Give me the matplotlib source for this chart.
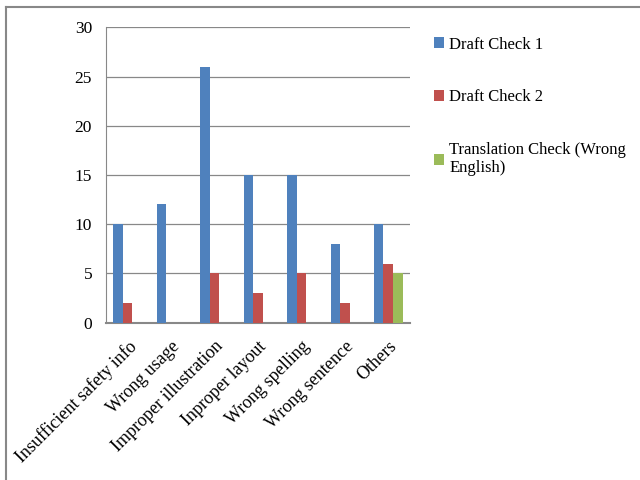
import matplotlib
matplotlib.use('Agg')
import matplotlib.pyplot as plt
import numpy as np
from matplotlib.lines import Line2D

plt.rcParams['font.family'] = ['Liberation Serif', 'DejaVu Serif']

categories = ['Insufficient safety info', 'Wrong usage', 'Improper illustration',
              'Inproper layout', 'Wrong spelling', 'Wrong sentence', 'Others']
draft1 = [10, 12, 26, 15, 15, 8, 10]
draft2 = [2, 0, 5, 3, 5, 2, 6]
translation = [0, 0, 0, 0, 0, 0, 5]
series_names = ['Draft Check 1', 'Draft Check 2', 'Translation Check (Wrong\nEnglish)']
colors = ['#4f81bd', '#c0504d', '#9bbb59']

fig = plt.figure(figsize=(6.4, 4.8), dpi=100)
ax = fig.add_axes([0.1656, 0.328, 0.475, 0.615])

x = np.arange(len(categories))
w = 0.22
for k, vals in enumerate([draft1, draft2, translation]):
    ax.bar(x + (k - 1) * w, vals, width=w, color=colors[k], label=series_names[k], zorder=3)

ax.set_xlim(-0.5, len(categories) - 0.5)
ax.set_ylim(0, 30)
ax.set_yticks(range(0, 31, 5))
ax.yaxis.grid(True, color='#888888', linewidth=0.9, zorder=0)
ax.set_xticks(x)
ax.set_xticklabels(categories, rotation=45, ha='right', rotation_mode='anchor')
ax.tick_params(axis='both', length=0, labelsize=12.5)
ax.tick_params(axis='y', pad=10)
ax.tick_params(axis='x', pad=11, labelsize=13)
for s in ['top', 'right']:
    ax.spines[s].set_visible(False)
ax.spines['left'].set_color('#888888')
ax.spines['bottom'].set_color('#888888')
ax.spines['bottom'].set_linewidth(1.5)

fig.legend(loc='upper left', bbox_to_anchor=(0.655, 0.955), frameon=False,
           fontsize=12, handlelength=0.6, handleheight=0.6, handletextpad=0.3,
           labelspacing=2.2)

# outer chart border (cropped on right and bottom)
fig.add_artist(Line2D([0.009, 1.0], [0.985, 0.985], color='#888888', linewidth=1.5))
fig.add_artist(Line2D([0.009, 0.009], [0.0, 0.985], color='#888888', linewidth=1.5))

fig.savefig('out.png', dpi=100)
